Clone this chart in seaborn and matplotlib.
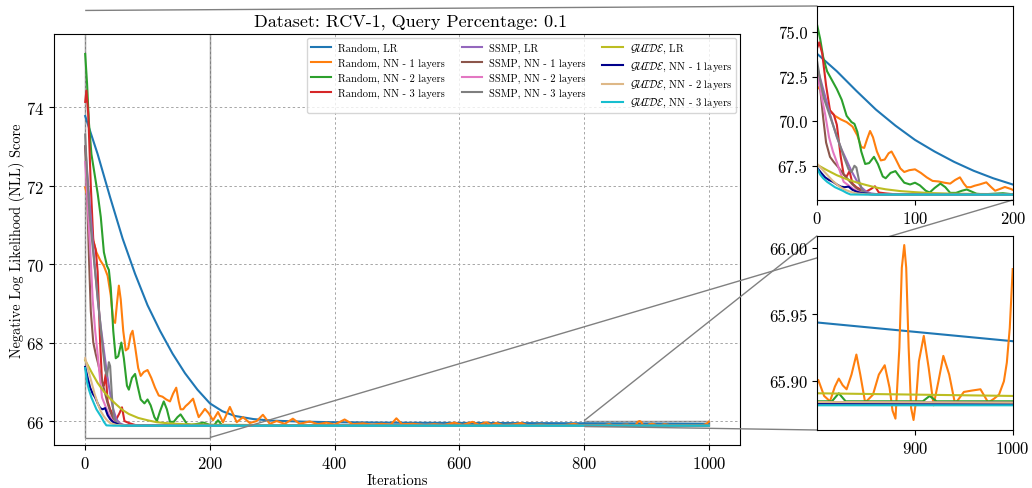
import matplotlib
matplotlib.use("Agg")
import matplotlib.pyplot as plt
import seaborn as sns
import pandas as pd
from mpl_toolkits.axes_grid1.inset_locator import mark_inset

plt.rcParams['font.family'] = ['cmr10', 'DejaVu Serif']
plt.rcParams['mathtext.fontset'] = 'cm'
plt.rcParams['axes.formatter.use_mathtext'] = True
plt.rcParams['axes.unicode_minus'] = False

# ---------------- data ----------------
series_names = [
    "Random, LR", "Random, NN - 1 layers", "Random, NN - 2 layers", "Random, NN - 3 layers",
    "SSMP, LR", "SSMP, NN - 1 layers", "SSMP, NN - 2 layers", "SSMP, NN - 3 layers",
    r"$\mathcal{GUIDE}$, LR", r"$\mathcal{GUIDE}$, NN - 1 layers",
    r"$\mathcal{GUIDE}$, NN - 2 layers", r"$\mathcal{GUIDE}$, NN - 3 layers",
]
series_colors = ["#1f77b4", "#ff7f0e", "#2ca02c", "#d62728", "#9467bd", "#8c564b",
                 "#e377c2", "#7f7f7f", "#bcbd22", "#00008b", "#deb887", "#17becf"]

rand_lr_x = [0, 20, 40, 60, 80, 100, 120, 140, 160, 180, 200, 220, 240, 270, 300, 350, 400,
             500, 600, 700, 800, 900, 1000]
rand_lr_y = [73.77, 72.8, 71.7, 70.65, 69.75, 68.95, 68.3, 67.72, 67.22, 66.8, 66.45, 66.25,
             66.13, 66.05, 66.01, 65.985, 65.97, 65.958, 65.952, 65.948, 65.944, 65.937, 65.93]

rand_nn1_x = [0, 4, 8, 13, 18, 24, 30, 36, 41, 45, 48, 51, 54, 57, 61, 65, 69, 73, 76, 80, 85,
              89, 94, 100, 106, 112, 118, 124, 130, 136, 141, 146, 150, 153, 157, 161, 166, 173,
              178, 182, 187, 192, 198, 205, 213, 221, 232, 243, 253, 264, 275, 285, 296, 307,
              320, 333, 344, 360, 373, 387, 400, 416, 429, 445, 460, 475, 490, 499, 508, 525,
              545, 560, 575, 592, 605, 621, 632, 643, 651, 659, 670, 685, 699, 710, 730, 750,
              770, 784, 795, 801, 807, 813, 818, 822, 826, 830, 835, 840, 844, 849, 853, 857,
              863, 869, 874, 877, 880, 884, 886.5, 889, 891, 893.5, 896, 898.5, 901, 904, 909,
              914, 919, 924, 929, 935, 941, 950, 958, 967, 975, 981, 986, 991, 994, 997, 1000]
rand_nn1_y = [71.95, 71.7, 71.2, 70.6, 70.3, 70.1, 69.95, 69.7, 69.2, 68.55, 68.5, 69.0, 69.45,
              69.1, 68.3, 67.8, 67.85, 68.2, 68.3, 67.9, 67.35, 67.15, 67.25, 67.3, 67.1, 66.85,
              66.65, 66.62, 66.55, 66.5, 66.7, 66.85, 66.5, 66.3, 66.3, 66.38, 66.45, 66.57,
              66.3, 66.1, 66.2, 66.31, 66.2, 66.02, 66.23, 65.97, 66.36, 65.97, 66.1, 65.95,
              66.0, 66.16, 65.93, 66.0, 65.93, 66.06, 65.93, 65.99, 65.92, 65.96, 65.91, 66.04,
              65.92, 65.94, 65.91, 65.93, 65.91, 66.07, 65.92, 65.93, 65.9, 65.92, 65.9, 65.96,
              65.9, 65.98, 65.9, 65.97, 65.9, 65.95, 65.9, 65.91, 65.95, 65.89, 65.91, 65.89,
              65.9, 65.93, 65.89, 65.901, 65.889, 65.885, 65.896, 65.902, 65.897, 65.894,
              65.905, 65.92, 65.905, 65.884, 65.887, 65.89, 65.905, 65.912, 65.895, 65.878,
              65.872, 65.925, 65.985, 66.002, 65.985, 65.925, 65.88, 65.871, 65.885, 65.915,
              65.934, 65.91, 65.882, 65.9, 65.919, 65.905, 65.883, 65.892, 65.893, 65.894,
              65.884, 65.887, 65.89, 65.9, 65.914, 65.94, 65.984]

rand_nn2_x = [0, 3, 6, 10, 15, 20, 25, 30, 35, 38, 41, 45, 49, 53, 58, 62, 67, 70, 75, 80, 84,
              89, 95, 100, 105, 111, 115, 120, 126, 131, 136, 142, 148, 153, 158, 163, 170, 180,
              190, 200, 207, 213, 219, 250, 300, 400, 600, 815, 822, 829, 908, 915, 922, 1000]
rand_nn2_y = [75.35, 74.6, 73.6, 72.8, 72.3, 71.8, 71.2, 70.3, 69.95, 69.85, 69.4, 68.3, 67.6,
              67.65, 68.0, 67.6, 66.9, 66.8, 67.1, 67.2, 66.9, 66.55, 66.45, 66.55, 66.4, 66.1,
              66.0, 66.25, 66.5, 66.3, 65.98, 65.98, 66.1, 66.17, 66.05, 65.93, 65.9, 65.93,
              65.96, 65.9, 65.9, 66.02, 65.9, 65.89, 65.888, 65.886, 65.885, 65.885, 65.891,
              65.885, 65.885, 65.889, 65.885, 65.885]

rand_nn3_x = [0, 2, 5, 9, 13, 17, 20, 24, 27, 30, 33, 36, 40, 45, 50, 55, 59, 63, 70, 80, 100, 1000]
rand_nn3_y = [74.13, 74.42, 73.8, 72.0, 70.6, 70.35, 69.8, 68.0, 67.0, 66.9, 67.2, 66.5, 66.3,
              66.15, 66.05, 66.2, 66.35, 66.0, 65.95, 65.9, 65.885, 65.883]

ssmp_lr_x = [0, 5, 10, 15, 20, 25, 30, 35, 40, 45, 50, 55, 62, 75, 1000]
ssmp_lr_y = [73.0, 72.0, 71.0, 70.0, 69.1, 68.4, 67.8, 67.2, 66.7, 66.3, 66.05, 65.95, 65.9,
             65.886, 65.884]

ssmp_nn1_x = [0, 3, 6, 9, 13, 17, 21, 24, 28, 32, 36, 40, 45, 52, 65, 1000]
ssmp_nn1_y = [73.0, 71.8, 70.2, 68.8, 68.0, 67.7, 67.45, 67.23, 66.95, 66.7, 66.45, 66.25,
              66.05, 65.92, 65.886, 65.883]

ssmp_nn2_x = [0, 2, 5, 8, 12, 16, 20, 24, 27, 32, 37, 42, 50, 60, 1000]
ssmp_nn2_y = [72.6, 72.1, 71.2, 70.4, 69.1, 68.3, 67.7, 67.05, 66.6, 66.4, 66.2, 66.05, 65.92,
              65.887, 65.883]

ssmp_nn3_x = [0, 3, 7, 14, 21, 28, 32, 35, 38, 40, 43, 46, 50, 58, 70, 1000]
ssmp_nn3_y = [73.3, 72.3, 71.24, 70.12, 69.0, 67.88, 67.3, 67.15, 67.5, 67.4, 66.6, 66.1,
              65.95, 65.89, 65.884, 65.883]

guide_lr_x = [0, 10, 20, 30, 40, 50, 60, 70, 85, 100, 115, 135, 160, 200, 300, 500, 800, 1000]
guide_lr_y = [67.55, 67.25, 66.97, 66.75, 66.57, 66.42, 66.28, 66.18, 66.08, 66.02, 65.97,
              65.94, 65.92, 65.905, 65.897, 65.893, 65.891, 65.889]

guide_nn1_x = [0, 4, 8, 12, 16, 20, 24, 28, 32, 36, 40, 45, 55, 70, 1000]
guide_nn1_y = [67.38, 67.1, 66.85, 66.7, 66.6, 66.45, 66.33, 66.3, 66.33, 66.15, 66.05, 65.97,
               65.9, 65.885, 65.883]

guide_nn2_x = [0, 5, 10, 15, 20, 25, 30, 35, 40, 50, 70, 1000]
guide_nn2_y = [67.6, 67.3, 67.0, 66.7, 66.45, 66.25, 66.12, 66.02, 65.95, 65.9, 65.886, 65.884]

guide_nn3_x = [0, 3, 6, 10, 14, 18, 22, 26, 30, 34, 45, 1000]
guide_nn3_y = [67.35, 67.0, 66.8, 66.6, 66.45, 66.3, 66.2, 66.1, 65.98, 65.89, 65.882, 65.882]

all_x = [rand_lr_x, rand_nn1_x, rand_nn2_x, rand_nn3_x, ssmp_lr_x, ssmp_nn1_x, ssmp_nn2_x,
         ssmp_nn3_x, guide_lr_x, guide_nn1_x, guide_nn2_x, guide_nn3_x]
all_y = [rand_lr_y, rand_nn1_y, rand_nn2_y, rand_nn3_y, ssmp_lr_y, ssmp_nn1_y, ssmp_nn2_y,
         ssmp_nn3_y, guide_lr_y, guide_nn1_y, guide_nn2_y, guide_nn3_y]

rows = []
for name, xs, ys in zip(series_names, all_x, all_y):
    for xv, yv in zip(xs, ys):
        rows.append((name, xv, yv))
df = pd.DataFrame(rows, columns=["series", "Iterations", "NLL"])

title_text = "Dataset: RCV-1, Query Percentage: 0.1"
xlabel_text = "Iterations"
ylabel_text = "Negative Log Likelihood (NLL) Score"

# ---------------- figure ----------------
fig = plt.figure(figsize=(10.32, 4.89), dpi=100)
ax = fig.add_axes([54/1032, 1-446/489, (740-54)/1032, (446-35)/489])
ax1 = fig.add_axes([817.3/1032, 1-201/489, 195.4/1032, 194/489])
ax2 = fig.add_axes([817.3/1032, 1-431/489, 195.4/1032, 194.3/489])

for a, leg in ((ax, True), (ax1, False), (ax2, False)):
    sns.lineplot(data=df, x="Iterations", y="NLL", hue="series", hue_order=series_names,
                 palette=series_colors, estimator=None, sort=False, linewidth=1.5,
                 ax=a, legend=leg)

ax.set_xlim(-50, 1050)
ax.set_ylim(65.39, 75.86)
ax.grid(True, linestyle=(0, (2.5, 2.5)), color="0.65", linewidth=0.7)
ax.set_title(title_text, fontsize=13, x=0.52)
ax.set_xlabel(xlabel_text, fontsize=10.5, labelpad=2)
ax.set_ylabel(ylabel_text, fontsize=10.3, labelpad=1)
ax.tick_params(labelsize=12)

h, l = ax.get_legend_handles_labels()
ax.legend(h, l, ncol=3, fontsize=7.6, loc="upper right", framealpha=0.8,
          borderaxespad=0.4, borderpad=0.35, labelspacing=0.45, columnspacing=1.6,
          handlelength=1.9, handletextpad=0.7)

ax1.set_xlim(0, 200)
ax1.set_ylim(65.58, 76.46)
ax1.set_xticks([0, 100, 200])
ax1.set_yticks([67.5, 70.0, 72.5, 75.0])
ax1.set_yticklabels(["67.5", "70.0", "72.5", "75.0"])
ax1.set_xlabel("")
ax1.set_ylabel("")
ax1.tick_params(labelsize=12)

ax2.set_xlim(800, 1000)
ax2.set_ylim(65.8635, 66.009)
ax2.set_xticks([900, 1000])
ax2.set_yticks([65.90, 65.95, 66.00])
ax2.set_yticklabels(["65.90", "65.95", "66.00"])
ax2.set_xlabel("")
ax2.set_ylabel("")
ax2.tick_params(labelsize=12)

mark_inset(ax, ax1, loc1=2, loc2=4, fc="none", ec="0.5", lw=1.0)
mark_inset(ax, ax2, loc1=2, loc2=3, fc="none", ec="0.5", lw=1.0)

fig.savefig("out.png", dpi=100)
